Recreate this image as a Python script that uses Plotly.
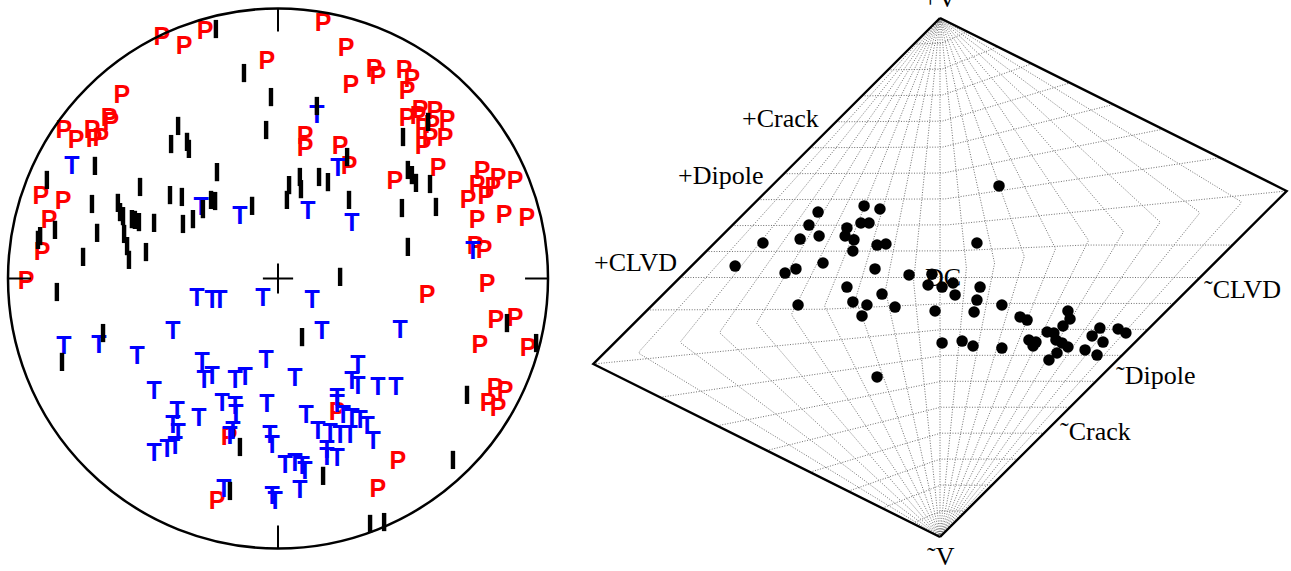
import numpy as np
import plotly.graph_objects as go

# ---------------------------------------------------------------
# Focal sphere (lower hemisphere, unit radius): polarity symbols
# ---------------------------------------------------------------
p_x = [-0.430, -0.348, -0.270, -0.041, -0.578, -0.626, -0.619, -0.793, -0.748, -0.689,
       -0.681, -0.656, -0.878, -0.796, -0.848, -0.874, -0.933,
       0.167, 0.252, 0.270, 0.356, 0.370, 0.467, 0.496, 0.478,
       0.478, 0.526, 0.581, 0.626, 0.537, 0.570, 0.619, 0.563, 0.537, 0.519,
       0.593, 0.433, 0.100, 0.100, 0.230, 0.263,
       0.756, 0.815, 0.878, 0.737, 0.796, 0.704, 0.770, 0.737, 0.837, 0.922, 0.730, 0.763,
       0.774, 0.552, 0.807, 0.878, 0.748, 0.926, 0.804, 0.841, 0.778, 0.815,
       0.444, 0.370, 0.219, -0.181, -0.226]
p_y = [0.887, 0.854, 0.909, 0.798, 0.672, 0.587, 0.572, 0.543, 0.506, 0.543,
       0.509, 0.513, 0.298, 0.280, 0.209, 0.091, -0.017,
       0.939, 0.846, 0.709, 0.769, 0.743, 0.765, 0.731, 0.687,
       0.587, 0.617, 0.613, 0.580, 0.550, 0.561, 0.513, 0.513, 0.483, 0.594,
       0.402, 0.354, 0.520, 0.476, 0.483, 0.409,
       0.391, 0.365, 0.354, 0.339, 0.331, 0.283, 0.298, 0.209, 0.228, 0.217, 0.113, 0.098,
       -0.028, -0.069, -0.161, -0.154, -0.254, -0.265, -0.413, -0.424, -0.469, -0.487,
       -0.683, -0.787, -0.502, -0.594, -0.831]

t_x = [-0.763, -0.285, -0.141, 0.144, 0.222, 0.111, 0.274, 0.722,
       -0.300, -0.244, -0.215, -0.056, 0.126, -0.389, 0.163, 0.452,
       -0.793, -0.663, -0.522, -0.281, -0.244, -0.274, -0.044, -0.159, -0.122, 0.063,
       0.296, 0.274, 0.296, 0.370, 0.437,
       -0.459, -0.374, -0.293, -0.207, -0.159, -0.156, -0.041, -0.389, -0.370, -0.167, -0.178,
       -0.459, -0.411, -0.381,
       0.104, 0.219, 0.219, 0.241, 0.274, 0.304, 0.330, 0.148, 0.193, 0.230, 0.267, 0.352,
       -0.030, -0.022, 0.181, 0.181, 0.219, 0.026, 0.063, 0.089, 0.100, 0.081, -0.022, -0.011,
       -0.200]
t_y = [0.409, 0.257, 0.224, 0.598, 0.402, 0.243, 0.198, 0.094,
       -0.080, -0.087, -0.087, -0.080, -0.087, -0.202, -0.202, -0.198,
       -0.257, -0.254, -0.294, -0.317, -0.369, -0.383, -0.309, -0.383, -0.372, -0.376,
       -0.328, -0.387, -0.406, -0.409, -0.409,
       -0.424, -0.498, -0.524, -0.469, -0.480, -0.509, -0.472, -0.550, -0.580, -0.572, -0.591,
       -0.654, -0.639, -0.628,
       -0.513, -0.450, -0.472, -0.513, -0.524, -0.531, -0.554, -0.572, -0.580, -0.587, -0.587, -0.609,
       -0.587, -0.624, -0.643, -0.669, -0.672, -0.698, -0.691, -0.702, -0.720, -0.791, -0.813, -0.831,
       -0.787]

n_x = [-0.230, -0.126, -0.026, -0.044, -0.370, -0.396, -0.337, -0.330, -0.678, -0.856,
       -0.226, -0.511, -0.400, -0.356, -0.248, -0.233, -0.096, -0.689, -0.593, -0.585,
       -0.574, -0.541, -0.530, -0.515, -0.459, -0.352, -0.315, -0.278, -0.826, -0.881,
       -0.889, -0.670, -0.570, -0.559, -0.552, -0.489, -0.722,
       0.144, 0.256, 0.081, 0.041, 0.085, 0.033, 0.152, 0.185, 0.263,
       0.463, 0.556, 0.481, 0.496, 0.511, 0.563, 0.459, 0.585, 0.481, 0.230,
       -0.819, -0.648, -0.800, -0.141, -0.178, 0.089, 0.848, 0.956, 0.700, 0.648,
       0.167, 0.341, 0.393]
n_y = [0.924, 0.761, 0.672, 0.550, 0.565, 0.498, 0.506, 0.480, 0.417, 0.365,
       0.394, 0.339, 0.309, 0.302, 0.291, 0.287, 0.269, 0.276, 0.280, 0.246,
       0.231, 0.220, 0.217, 0.209, 0.206, 0.202, 0.220, 0.257, 0.180, 0.157,
       0.143, 0.169, 0.165, 0.120, 0.069, 0.098, 0.080,
       0.639, 0.450, 0.376, 0.346, 0.331, 0.291, 0.376, 0.357, 0.291,
       0.524, 0.580, 0.402, 0.383, 0.354, 0.350, 0.261, 0.265, 0.117, 0.006,
       -0.050, -0.202, -0.309, -0.624, -0.787, -0.217, -0.165, -0.239, -0.431, -0.672,
       -0.731, -0.909, -0.902]

# ---------------------------------------------------------------
# Hudson source-type diagram: event positions (u, v)
# ---------------------------------------------------------------
src_u = [-0.292, -0.231, -0.469, -0.504, -0.304, -0.273, -0.358, -0.681, -0.538, -0.465,
         -0.365, -0.331, -0.242, -0.208, -0.335, -0.788, -0.450, -0.554, -0.596, -0.250,
         -0.119, -0.031, 0.227, 0.142, -0.358, -0.546, -0.335, -0.281, -0.223, -0.173,
         -0.300, -0.019, 0.008, -0.242, -0.046, 0.008, 0.050, 0.058, 0.154, 0.142,
         0.131, 0.238, 0.308, 0.335, 0.492, 0.500, 0.473, 0.412, 0.438, 0.085,
         0.127, 0.238, 0.342, 0.369, 0.358, 0.446, 0.469, 0.492, 0.450, 0.419,
         0.558, 0.585, 0.615, 0.627, 0.604, 0.685, 0.715]
src_v = [0.276, 0.264, 0.252, 0.202, 0.210, 0.210, 0.191, 0.133, 0.148, 0.160,
         0.160, 0.145, 0.125, 0.129, 0.102, 0.044, 0.056, 0.033, 0.017, 0.033,
         0.010, 0.013, 0.353, 0.133, -0.037, -0.106, -0.094, -0.106, -0.064, -0.114,
         -0.148, -0.129, -0.252, -0.383, -0.029, -0.037, -0.021, -0.067, -0.037, -0.087,
         -0.133, -0.106, -0.152, -0.164, -0.129, -0.160, -0.187, -0.210, -0.214, -0.245,
         -0.264, -0.272, -0.241, -0.249, -0.264, -0.241, -0.252, -0.268, -0.291, -0.318,
         -0.279, -0.225, -0.195, -0.249, -0.299, -0.198, -0.214]

# Reference source types as (T, k) pairs
ref_labels = ["+CLVD", "+Dipole", "+Crack", "\u02dcCLVD", "\u02dcDipole", "\u02dcCrack",
              "+V", "\u02dcV", "DC"]
ref_T = [-1, -1, -1, 1, 1, 1, 0, 0, 0]
ref_k = [0, 1 / 3, 5 / 9, 0, -1 / 3, -5 / 9, 1, -1, 0]


def hudson_uv(T, k):
    """Map (T, k) onto the skewed Hudson diamond."""
    tau = T * (1.0 - abs(k))
    if tau * k < 0:
        return tau, k
    s = 1.0 if (tau + k) >= 0 else -1.0
    ta, ka = abs(tau), abs(k)
    d = 1.0 - ta / 2.0 if ta < 4.0 * ka else 1.0 - 2.0 * ka
    return s * ta / d, s * ka / d


W, H = 1291, 571
fig = go.Figure()

# --- grid of constant k and constant T
gx, gy = [], []
samp = np.linspace(-1, 1, 401)
steps = np.round(np.arange(-0.9, 0.91, 0.1), 2)
for kv in steps:
    for Tv in samp:
        u, v = hudson_uv(Tv, kv)
        gx.append(u); gy.append(v)
    gx.append(None); gy.append(None)
for Tv in steps:
    for kv in samp:
        u, v = hudson_uv(Tv, kv)
        gx.append(u); gy.append(v)
    gx.append(None); gy.append(None)
fig.add_trace(go.Scatter(x=gx, y=gy, mode="lines", xaxis="x2", yaxis="y2",
                         line=dict(color="#707070", width=1, dash="1px,1.6px"),
                         hoverinfo="skip"))

# --- diamond outline (T = +1 and T = -1)
ox, oy = [], []
for Tv in (1.0, -1.0):
    for kv in samp:
        u, v = hudson_uv(Tv, kv)
        ox.append(u); oy.append(v)
    ox.append(None); oy.append(None)
fig.add_trace(go.Scatter(x=ox, y=oy, mode="lines", xaxis="x2", yaxis="y2",
                         line=dict(color="black", width=2.4), hoverinfo="skip"))

fig.add_trace(go.Scatter(x=src_u, y=src_v, mode="markers", xaxis="x2", yaxis="y2",
                         marker=dict(size=11.5, color="black"), hoverinfo="skip"))

# --- focal sphere symbols
sym_font = dict(family="Liberation Sans, Arial", size=25, weight="bold")
fig.add_trace(go.Scatter(x=p_x, y=p_y, mode="text", text=["P"] * len(p_x),
                         textfont=dict(color="#ff0000", **sym_font), hoverinfo="skip"))
fig.add_trace(go.Scatter(x=t_x, y=t_y, mode="text", text=["T"] * len(t_x),
                         textfont=dict(color="#0000ff", **sym_font), hoverinfo="skip"))
fig.add_trace(go.Scatter(x=n_x, y=n_y, mode="markers", hoverinfo="skip",
                         marker=dict(symbol="line-ns", size=13,
                                     line=dict(color="black", width=4.4))))

# circle, cardinal ticks and centre cross
shapes = [dict(type="circle", xref="x", yref="y", x0=-1, y0=-1, x1=1, y1=1,
               line=dict(color="black", width=2.5))]
tick = 0.085
for (x0, y0, x1, y1) in [(0, 1, 0, 1 - tick), (0, -1, 0, -1 + tick),
                         (-1, 0, -1 + tick, 0), (1, 0, 1 - tick, 0),
                         (-0.056, 0, 0.056, 0), (0, -0.056, 0, 0.056)]:
    shapes.append(dict(type="line", xref="x", yref="y", x0=x0, y0=y0, x1=x1, y1=y1,
                       line=dict(color="black", width=2)))

# Hudson labels
lab_font = dict(family="Liberation Serif, Times New Roman", size=26, color="black")
offsets = {
    "+CLVD": ("right", "middle", -1, 15),
    "+Dipole": ("right", "middle", -2, 16),
    "+Crack": ("right", "middle", -3, 15),
    "\u02dcCLVD": ("left", "middle", 2, -12),
    "\u02dcDipole": ("left", "middle", 1, -11),
    "\u02dcCrack": ("left", "middle", 2, -10),
    "+V": ("center", "bottom", 0, 3),
    "\u02dcV": ("center", "top", 1, -3),
    "DC": ("center", "middle", 3, 0),
}
annotations = []
for lab, Tv, kv in zip(ref_labels, ref_T, ref_k):
    u, v = hudson_uv(Tv, kv)
    xa, ya, dx, dy = offsets[lab]
    annotations.append(dict(x=u, y=v, xref="x2", yref="y2", text=lab, showarrow=False,
                            xanchor=xa, yanchor=ya, xshift=dx, yshift=dy, font=lab_font))

fig.update_layout(
    width=W, height=H, margin=dict(l=0, r=0, t=0, b=0),
    paper_bgcolor="white", plot_bgcolor="white", showlegend=False,
    xaxis=dict(domain=[0, 556 / W], range=[-278 / 270, 278 / 270], visible=False),
    yaxis=dict(domain=[1 - 557 / H, 1], range=[-278.5 / 270, 278.5 / 270], visible=False),
    xaxis2=dict(domain=[560 / W, 1], range=[(560 - 940) / 260, (W - 940) / 260],
                visible=False, anchor="y2"),
    yaxis2=dict(domain=[0, 1], range=[(277.5 - H) / 259.5, 277.5 / 259.5],
                visible=False, anchor="x2"),
    shapes=shapes, annotations=annotations,
)

fig.write_html("out.html")
